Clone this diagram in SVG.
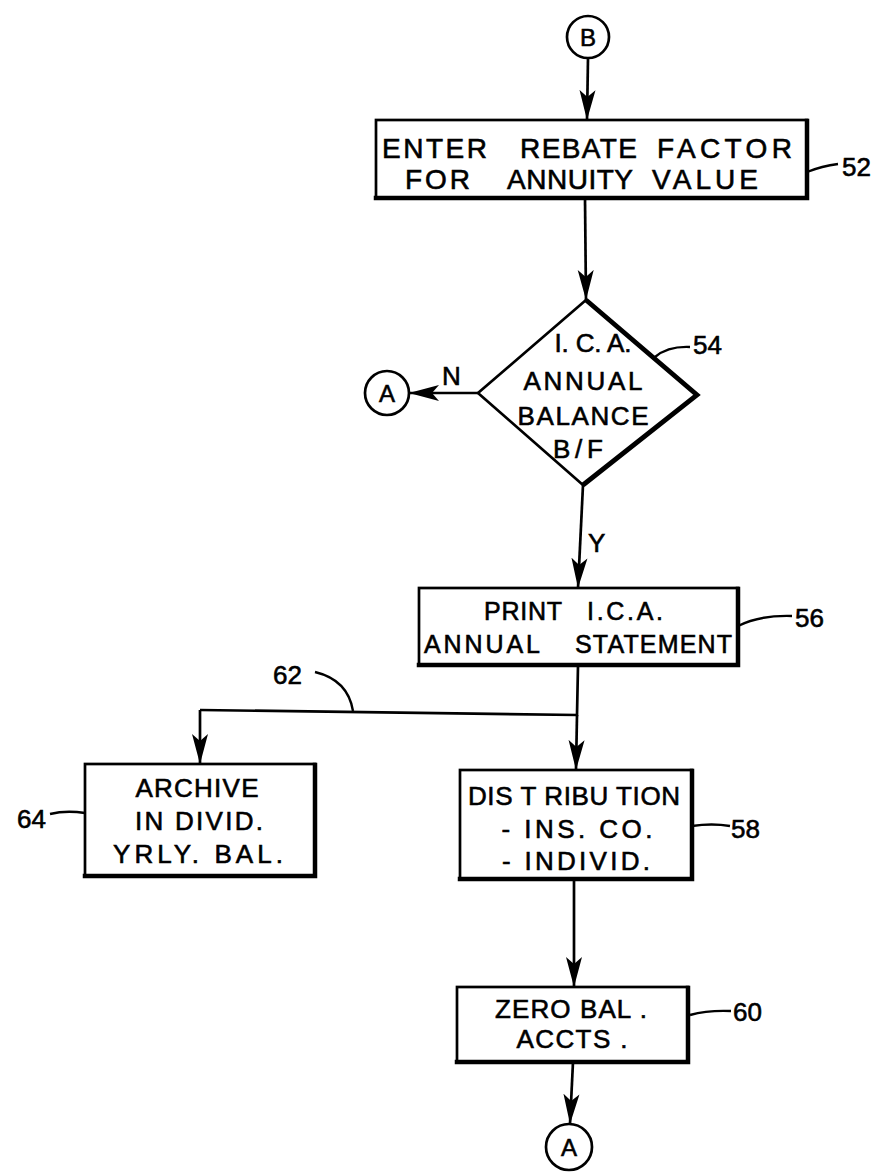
<svg xmlns="http://www.w3.org/2000/svg" width="880" height="1172" viewBox="0 0 880 1172">
<style>
.box{fill:#fff;stroke:#000;stroke-width:2.7}
.sh{fill:none;stroke:#000;stroke-width:4.5;stroke-linecap:square}
.ln{fill:none;stroke:#000;stroke-width:2.7}
.ld{fill:none;stroke:#000;stroke-width:2.4}
text{font-family:"Liberation Sans",Arial,sans-serif;fill:#000;stroke:#000;stroke-width:0.6}
.t{font-size:26px;text-anchor:middle}
.w{font-size:28px}
.n{font-size:26px}
</style>
<defs>
<marker id="ah" markerUnits="userSpaceOnUse" markerWidth="34" markerHeight="20" viewBox="0 -10 34 20" refX="30" refY="0" orient="auto">
<path d="M0,-8 L30,0 L0,8 L7,0 z" fill="#000"/>
</marker>
</defs>
<rect width="880" height="1172" fill="#fff"/>
<g id="connectors">
<line class="ln" x1="588" y1="58" x2="587" y2="120" marker-end="url(#ah)"/>
<line class="ln" x1="585" y1="198" x2="586" y2="300" marker-end="url(#ah)"/>
<line class="ln" x1="478" y1="393" x2="409" y2="393" marker-end="url(#ah)"/>
<line class="ln" x1="583" y1="485" x2="578" y2="588" marker-end="url(#ah)"/>
<polyline class="ln" points="578,666 577,715 200,710"/>
<line class="ln" x1="577" y1="715" x2="576" y2="770" marker-end="url(#ah)"/>
<line class="ln" x1="200" y1="710" x2="200" y2="764" marker-end="url(#ah)"/>
<line class="ln" x1="574" y1="879" x2="574" y2="987" marker-end="url(#ah)"/>
<line class="ln" x1="573" y1="1062" x2="570" y2="1124" marker-end="url(#ah)"/>
<text class="n" x="442" y="385" font-size="24">N</text>
<text class="n" x="588" y="552" font-size="24">Y</text>
</g>
<g id="connB">
<circle cx="588" cy="37" r="21" fill="#fff" stroke="#000" stroke-width="2.7"/>
<text x="588" y="46" font-size="24" text-anchor="middle">B</text>
</g>
<g id="node52">
<rect class="box" x="376" y="120" width="431" height="78"/>
<polyline class="sh" points="376,198 807,198 807,121"/>
<text class="w" y="158"><tspan x="382" textLength="105" lengthAdjust="spacing">ENTER</tspan><tspan x="520" textLength="117" lengthAdjust="spacing">REBATE</tspan><tspan x="657" textLength="135" lengthAdjust="spacing">FACTOR</tspan></text>
<text class="w" y="189"><tspan x="405" textLength="65" lengthAdjust="spacing">FOR</tspan><tspan x="507" textLength="126" lengthAdjust="spacing">ANNUITY</tspan><tspan x="652" textLength="106" lengthAdjust="spacing">VALUE</tspan></text>
<path class="ld" d="M807,172 Q822,166 838,164"/>
<text class="n" x="842" y="176">52</text>
</g>
<g id="node54">
<polygon points="586,300 697,395 583,485 478,393" fill="#fff" stroke="#000" stroke-width="2.7" stroke-linejoin="miter"/>
<polyline points="586,300 697,395 583,485" fill="none" stroke="#000" stroke-width="4.8"/>
<text class="t" x="593" y="352" font-size="25" textLength="77" lengthAdjust="spacing">I. C. A.</text>
<text class="t" x="583" y="390" font-size="25" textLength="119" lengthAdjust="spacing">ANNUAL</text>
<text class="t" x="583" y="425" font-size="25" textLength="131" lengthAdjust="spacing">BALANCE</text>
<text class="t" x="578" y="458" font-size="25" textLength="50" lengthAdjust="spacing">B/F</text>
<path class="ld" d="M655,357 Q668,346 690,347"/>
<text class="n" x="693" y="354">54</text>
</g>
<g id="connA1">
<circle cx="387" cy="393" r="22" fill="#fff" stroke="#000" stroke-width="2.7"/>
<text x="387" y="402" font-size="24" text-anchor="middle">A</text>
</g>
<g id="node56">
<rect class="box" x="419" y="588" width="319" height="77"/>
<polyline class="sh" points="419,665 738,665 738,589"/>
<text font-size="25" y="620"><tspan x="484" textLength="78" lengthAdjust="spacing">PRINT</tspan><tspan x="587" textLength="76" lengthAdjust="spacing">I.C.A.</tspan></text>
<text font-size="25" y="653"><tspan x="424" textLength="116" lengthAdjust="spacing">ANNUAL</tspan><tspan x="575" textLength="157" lengthAdjust="spacing">STATEMENT</tspan></text>
<path class="ld" d="M738,626 Q760,615 792,616"/>
<text class="n" x="795" y="627">56</text>
</g>
<g id="label62">
<text class="n" x="273" y="684">62</text>
<path class="ld" d="M315,672 Q348,680 353,711"/>
</g>
<g id="node64">
<rect class="box" x="85" y="764" width="230" height="112"/>
<polyline class="sh" points="85,876 315,876 315,765"/>
<text class="t" x="197" y="797" font-size="25" textLength="123" lengthAdjust="spacing">ARCHIVE</text>
<text class="t" x="199" y="830" font-size="25" textLength="128" lengthAdjust="spacing">IN DIVID.</text>
<text class="t" x="198" y="863" font-size="25" textLength="170" lengthAdjust="spacing">YRLY.  BAL.</text>
<path class="ld" d="M50,814 Q66,810 85,813"/>
<text class="n" x="46" y="828" text-anchor="end" font-size="27">64</text>
</g>
<g id="node58">
<rect class="box" x="460" y="770" width="232" height="109"/>
<polyline class="sh" points="460,879 692,879 692,771"/>
<text class="t" x="574" y="805" font-size="26" textLength="212" lengthAdjust="spacing">DIS T RIBU TION</text>
<text class="t" x="577" y="838" font-size="26" textLength="151" lengthAdjust="spacing">-  INS. CO.</text>
<text class="t" x="576" y="870" font-size="26" textLength="148" lengthAdjust="spacing">-  INDIVID.</text>
<path class="ld" d="M692,826 Q712,823 730,826"/>
<text class="n" x="731" y="838">58</text>
</g>
<g id="node60">
<rect class="box" x="457" y="987" width="231" height="75"/>
<polyline class="sh" points="457,1062 688,1062 688,988"/>
<text class="t" x="571" y="1018" font-size="24" textLength="152" lengthAdjust="spacing">ZERO BAL .</text>
<text class="t" x="572" y="1048" font-size="24" textLength="111" lengthAdjust="spacing">ACCTS .</text>
<path class="ld" d="M690,1015 Q708,1010 731,1011"/>
<text class="n" x="733" y="1021">60</text>
</g>
<g id="connA2">
<circle cx="569" cy="1147" r="23" fill="#fff" stroke="#000" stroke-width="2.7"/>
<text x="569" y="1156" font-size="24" text-anchor="middle">A</text>
</g>
</svg>
